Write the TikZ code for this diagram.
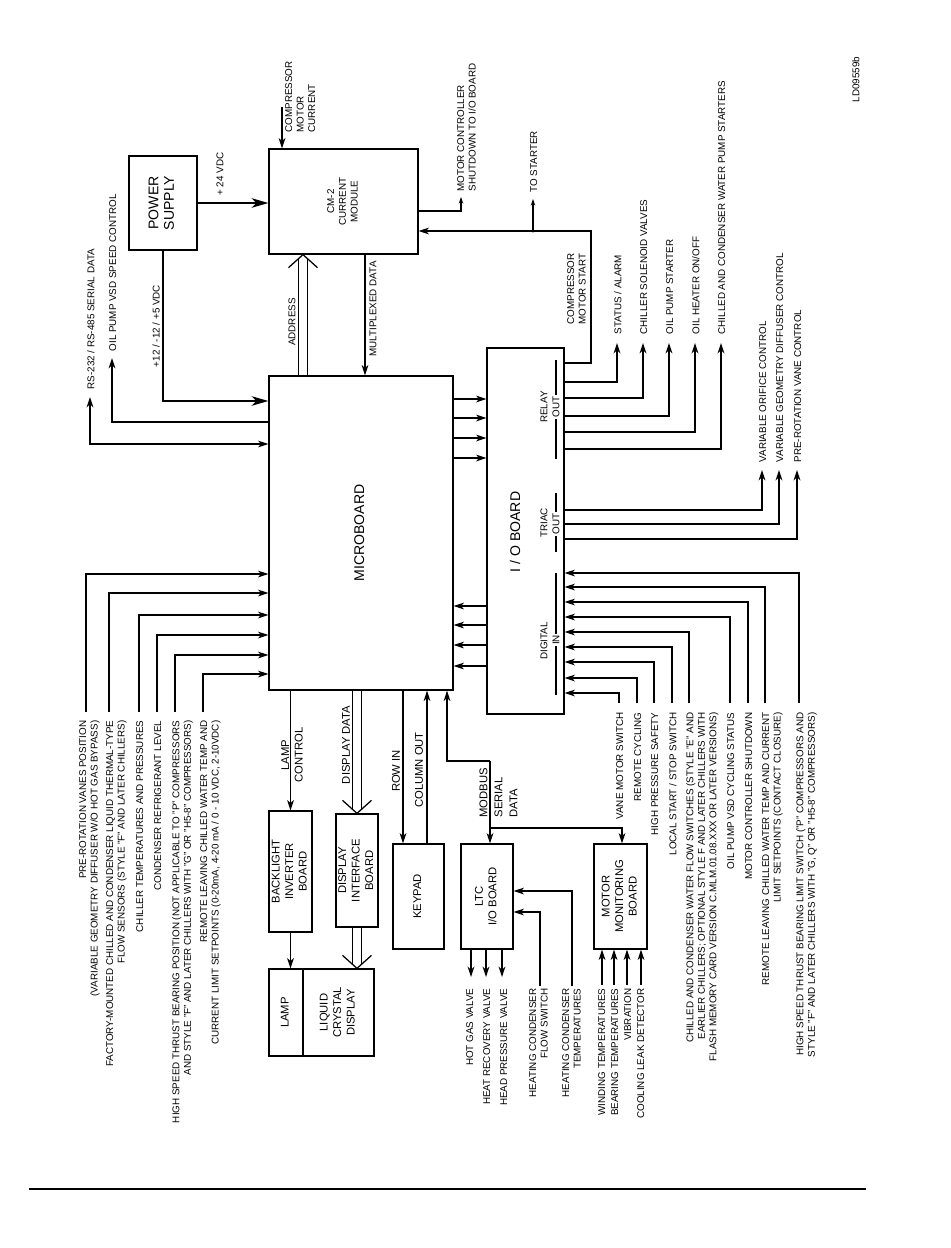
\documentclass[tikz,border=0pt]{standalone}
\usepackage{fontspec}
\setmainfont{Liberation Sans}
\usepackage{graphicx}
\usetikzlibrary{arrows.meta,backgrounds}

\newcommand{\lblfont}{\fontsize{7}{8.2}\selectfont}
\newcommand{\midfont}{\fontsize{8}{9.6}\selectfont}
\newcommand{\bigfont}{\fontsize{10}{11}\selectfont}
\newcommand{\cmfont}{\fontsize{7}{8.3}\selectfont}
\newcommand{\vlab}[1]{\rotatebox{90}{\begin{tabular}{@{}c@{}}#1\end{tabular}}}

\begin{document}
\begin{tikzpicture}[
    x=0.025cm, y=-0.025cm, line width=0.9pt,
    box/.style={draw, inner sep=0pt, font=\midfont},
    lbl/.style={rotate=90, inner sep=0pt, font=\lblfont, align=right, anchor=north east},
    lbll/.style={rotate=90, inner sep=0pt, font=\lblfont, align=left, anchor=north west},
    lblc/.style={rotate=90, inner sep=0pt, font=\lblfont, align=center},
    arr/.style={-{Stealth[length=2.6mm, width=1.7mm, inset=0.8mm]}},
    arrtwo/.style={{Stealth[length=2.6mm, width=1.7mm, inset=0.8mm]}-{Stealth[length=2.6mm, width=1.7mm, inset=0.8mm]}},
    bigarr/.style={-{Stealth[length=4.2mm, width=2.4mm, inset=1.2mm]}},
    smallarr/.style={-{Stealth[length=1.6mm, width=1.1mm, inset=0.5mm]}},
    dbl/.style={double, double distance=0.215cm}
]
\useasboundingbox (0,0) rectangle (950,1248);

% boxes
\node[box, minimum width=1.7cm, minimum height=2.35cm, font=\bigfont] (ps) at (163,203) {\vlab{POWER\\SUPPLY}};
\node[box, minimum width=3.725cm, minimum height=2.625cm, font=\cmfont] (cm) at (343.5,201.5) {\vlab{CM-2\\CURRENT\\MODULE}};
\node[box, minimum width=4.6cm, minimum height=7.85cm, font=\bigfont] (mb) at (361,533) {\vlab{MICROBOARD}};
\node[box, minimum width=1.925cm, minimum height=9.15cm] (io) at (525.5,531) {};
\node[font=\bigfont] (iotxt) at (517,532) {\vlab{I / O BOARD}};
\node[box, minimum width=1.075cm, minimum height=3.025cm] (bl) at (290.5,871.5) {\vlab{BACKLIGHT\\INVERTER\\BOARD}};
\node[box, minimum width=1.05cm, minimum height=2.825cm] (di) at (357,870.5) {\vlab{DISPLAY\\INTERFACE\\BOARD}};
\node[box, minimum width=1.275cm, minimum height=2.625cm] (kp) at (418.5,896.5) {\vlab{KEYPAD}};
\node[box, minimum width=1.3cm, minimum height=2.625cm] (ltc) at (487,896.5) {\vlab{LTC\\I/O BOARD}};
\node[box, minimum width=1.325cm, minimum height=2.625cm] (mm) at (620.5,896.5) {\vlab{MOTOR\\MONITORING\\BOARD}};
\node[box, minimum width=0.85cm, minimum height=2.175cm] (lamp) at (286,1012.5) {\vlab{LAMP}};
\node[box, minimum width=1.775cm, minimum height=2.175cm] (lcd) at (338.5,1012.5) {\vlab{LIQUID\\CRYSTAL\\DISPLAY}};

% power and current module
\node[lblc] (vtf) at (220,174) {+ 24 VDC};
\draw[bigarr] (ps.east |- 0,203) -- (cm.west |- 0,203);
\coordinate (cmc) at (282,107);
\node[lbll] (cmctxt) at (284.6,133) {COMPRESSOR\\MOTOR\\CURRENT};
\draw[arr] (cmc) -- (cmc |- cm.north);
\node[lblc] (vdc) at (156,326) {+12 / -12 / +5 VDC};
\draw[bigarr] (ps.south) |- (mb.west |- 0,401);
\coordinate (opc) at (112,358);
\node[lbll] (optxt) at (108.6,352) {OIL PUMP VSD SPEED CONTROL};
\draw[arr] (mb.west |- 0,422) -| (opc);
\coordinate (rsc) at (90,397);
\node[lbll] (rstxt) at (86.6,390) {RS-232 / RS-485 SERIAL DATA};
\draw[arrtwo] (rsc) |- (mb.west |- 0,444);

% address and multiplexed data
\coordinate (adrtip) at (cm.south -| 303,0);
\begin{scope}[on background layer]
    \draw[dbl] (mb.north -| 303,0) -- ([shift={(0,4.5)}]adrtip);
    \draw[dbl] (mb.south -| di.north) -- ([shift={(0,-4.5)}]di.north);
    \draw[dbl] (di.south) -- ([shift={(0,-4.5)}]di.south |- lcd.north);
\end{scope}
\draw (adrtip) ++(-14.5,13) -- (adrtip) -- ++(14.5,13);
\node[lblc] (adrtxt) at (292,322) {ADDRESS};
\draw[arr] (cm.south -| 365,0) -- (mb.north -| 365,0);
\node[lblc] (mpxtxt) at (373,309) {MULTIPLEXED DATA};

% motor controller and starter
\coordinate (mcsc) at (461,197);
\node[lbll] (mcstxt) at (456.6,192) {MOTOR CONTROLLER\\SHUTDOWN TO I/O BOARD};
\draw[smallarr] (cm.east |- 0,211) -| (mcsc);
\coordinate (cmsc) at (591,231);
\draw[arr] (io.east |- 0,363) -| (cmsc) -- (cm.east |- cmsc);
\node[lbll] (cmstxt) at (566.6,325) {COMPRESSOR\\MOTOR START};
\coordinate (tsc) at (533,199);
\draw[smallarr] (tsc |- cmsc) -- (tsc);
\fill (tsc |- cmsc) circle[radius=1.2pt];
\node[lbll] (tstxt) at (529.6,193) {TO STARTER};

% relay outputs
\coordinate (r1) at (617,343);
\node[lbll] (r1txt) at (613.6,335) {STATUS / ALARM};
\draw[arr] (io.east |- 0,382) -| (r1);
\coordinate (r2) at (643,343);
\node[lbll] (r2txt) at (639.6,335) {CHILLER SOLENOID VALVES};
\draw[arr] (io.east |- 0,398) -| (r2);
\coordinate (r3) at (669,343);
\node[lbll] (r3txt) at (665.6,335) {OIL PUMP STARTER};
\draw[arr] (io.east |- 0,416) -| (r3);
\coordinate (r4) at (695,343);
\node[lbll] (r4txt) at (691.6,335) {OIL HEATER ON/OFF};
\draw[arr] (io.east |- 0,432) -| (r4);
\coordinate (r5) at (721,343);
\node[lbll] (r5txt) at (717.6,335) {CHILLED AND CONDENSER WATER PUMP STARTERS};
\draw[arr] (io.east |- 0,449) -| (r5);

% triac outputs
\coordinate (t1) at (762,470);
\node[lbll] (t1txt) at (758.6,463) {VARIABLE ORIFICE CONTROL};
\draw[arr] (io.east |- 0,510) -| (t1);
\coordinate (t2) at (779,470);
\node[lbll] (t2txt) at (775.6,463) {VARIABLE GEOMETRY DIFFUSER CONTROL};
\draw[arr] (io.east |- 0,524) -| (t2);
\coordinate (t3) at (797,470);
\node[lbll] (t3txt) at (793.6,463) {PRE-ROTATION VANE CONTROL};
\draw[arr] (io.east |- 0,539) -| (t3);

% digital inputs
\coordinate (d1) at (619,703);
\node[lbl] (d1txt) at (615.6,712) {VANE MOTOR SWITCH};
\draw[arr] (d1) |- (io.east |- 0,693);
\coordinate (d2) at (637,703);
\node[lbl] (d2txt) at (633.6,712) {REMOTE CYCLING};
\draw[arr] (d2) |- (io.east |- 0,678);
\coordinate (d3) at (654,703);
\node[lbl] (d3txt) at (650.6,712) {HIGH PRESSURE SAFETY};
\draw[arr] (d3) |- (io.east |- 0,662);
\coordinate (d4) at (672,703);
\node[lbl] (d4txt) at (668.6,712) {LOCAL START / STOP SWITCH};
\draw[arr] (d4) |- (io.east |- 0,647);
\coordinate (d5) at (689,703);
\node[lbl] (d5txt) at (685.6,712) {CHILLED AND CONDENSER WATER FLOW SWITCHES (STYLE "E" AND\\EARLIER CHILLERS; OPTIONAL STYLE F AND LATER CHILLERS WITH\\FLASH MEMORY CARD VERSION C.MLM.01.08.XXX OR LATER VERSIONS)};
\draw[arr] (d5) |- (io.east |- 0,632);
\coordinate (d6) at (730,703);
\node[lbl] (d6txt) at (726.6,712) {OIL PUMP VSD CYCLING STATUS};
\draw[arr] (d6) |- (io.east |- 0,617);
\coordinate (d7) at (748,703);
\node[lbl] (d7txt) at (744.6,712) {MOTOR CONTROLLER SHUTDOWN};
\draw[arr] (d7) |- (io.east |- 0,602);
\coordinate (d8) at (765,703);
\node[lbl] (d8txt) at (761.6,712) {REMOTE LEAVING CHILLED WATER TEMP AND CURRENT\\LIMIT SETPOINTS (CONTACT CLOSURE)};
\draw[arr] (d8) |- (io.east |- 0,587);
\coordinate (d9) at (799,703);
\node[lbl] (d9txt) at (795.6,712) {HIGH SPEED THRUST BEARING LIMIT SWITCH ("P" COMPRESSORS AND\\STYLE "F" AND LATER CHILLERS WITH "G, Q" OR "H5-8" COMPRESSORS)};
\draw[arr] (d9) |- (io.east |- 0,573);

% i/o board sections
\draw (556,360) -- (556,459);
\node[lblc, fill=white, inner sep=1pt] (rout) at (556,407) {OUT};
\node[lblc] (rrel) at (544,407) {RELAY};
\draw (556,493) -- (556,552);
\node[lblc, fill=white, inner sep=1pt] (tout) at (556,524) {OUT};
\node[lblc] (ttri) at (544,523) {TRIAC};
\draw (556,573) -- (556,695);
\node[lblc, fill=white, inner sep=1pt] (din) at (556,640) {IN};
\node[lblc] (ddig) at (544,641) {DIGITAL};

% microboard <-> i/o board
\draw[arr] (mb.east |- 0,399) -- (io.west |- 0,399);
\draw[arr] (mb.east |- 0,418) -- (io.west |- 0,418);
\draw[arr] (mb.east |- 0,438) -- (io.west |- 0,438);
\draw[arr] (mb.east |- 0,458) -- (io.west |- 0,458);
\draw[arr] (io.west |- 0,606) -- (mb.east |- 0,606);
\draw[arr] (io.west |- 0,625) -- (mb.east |- 0,625);
\draw[arr] (io.west |- 0,645) -- (mb.east |- 0,645);
\draw[arr] (io.west |- 0,666) -- (mb.east |- 0,666);

% microboard inputs
\coordinate (i1) at (86,712);
\node[lbl] (i1txt) at (78.6,720) {PRE-ROTATION VANES POSITION\\(VARIABLE GEOMETRY DIFFUSER W/O HOT GAS BYPASS)};
\draw[arr] (i1) |- (mb.west |- 0,574);
\coordinate (i2) at (109,712);
\node[lbl] (i2txt) at (105.6,720) {FACTORY-MOUNTED CHILLED AND CONDENSER LIQUID THERMAL-TYPE\\FLOW SENSORS (STYLE "F" AND LATER CHILLERS)};
\draw[arr] (i2) |- (mb.west |- 0,593);
\coordinate (i3) at (139,712);
\node[lbl] (i3txt) at (135.6,720) {CHILLER TEMPERATURES AND PRESSURES};
\draw[arr] (i3) |- (mb.west |- 0,615);
\coordinate (i4) at (157,712);
\node[lbl] (i4txt) at (153.6,720) {CONDENSER REFRIGERANT LEVEL};
\draw[arr] (i4) |- (mb.west |- 0,635);
\coordinate (i5) at (175,712);
\node[lbl] (i5txt) at (171.6,720) {HIGH SPEED THRUST BEARING POSITION (NOT APPLICABLE TO "P" COMPRESSORS\\AND STYLE "F" AND LATER CHILLERS WITH "G" OR "H5-8" COMPRESSORS)};
\draw[arr] (i5) |- (mb.west |- 0,655);
\coordinate (i6) at (203,712);
\node[lbl] (i6txt) at (199.6,720) {REMOTE LEAVING CHILLED WATER TEMP AND\\CURRENT LIMIT SETPOINTS (0-20mA, 4-20 mA / 0 - 10 VDC, 2-10VDC)};
\draw[arr] (i6) |- (mb.west |- 0,674);

% display, lamp and keypad
\draw[arr] (mb.south -| bl.north) -- (bl.north);
\node[lblc, font={\fontsize{8}{9.6}\selectfont}] (lctxt) at (292,755) {LAMP\\CONTROL};
\draw[arr] (bl.south) -- (bl.south |- lamp.north);
\draw (di.north) ++(-14.5,-13) -- (di.north) -- ++(14.5,-13);
\draw (di.south |- lcd.north) ++(-14.5,-13) -- (di.south |- lcd.north) -- ++(14.5,-13);
\node[lblc, font=\midfont] (ddtxt) at (346,745) {DISPLAY DATA};
\draw[arr] (mb.south -| 403,0) -- (kp.north -| 403,0);
\draw[arr] (kp.north -| 427,0) -- (mb.south -| 427,0);
\node[lblc, font=\midfont] (rowtxt) at (396,771) {ROW IN};
\node[lblc, font=\midfont] (coltxt) at (419,770) {COLUMN OUT};

% modbus
\coordinate (mbk) at (490,761);
\draw[arr] (mbk) -| (mb.south -| 447,0);
\draw[arr] (mbk) -- (ltc.north -| mbk);
\draw[arr] (mbk |- 0,828) -| (mm.north -| 622,0);
\node[lbll, font={\fontsize{8}{10.6}\selectfont}] (mbustxt) at (479,818) {MODBUS\\SERIAL\\DATA};

% ltc board
\coordinate (o1) at (471,977);
\node[lbl] (o1txt) at (465.6,988) {HOT GAS VALVE};
\draw[arr] (ltc.south -| o1) -- (o1);
\coordinate (o2) at (486,977);
\node[lbl] (o2txt) at (482.6,988) {HEAT RECOVERY VALVE};
\draw[arr] (ltc.south -| o2) -- (o2);
\coordinate (o3) at (502,977);
\node[lbl] (o3txt) at (499.6,988) {HEAD PRESSURE VALVE};
\draw[arr] (ltc.south -| o3) -- (o3);
\coordinate (fs) at (540,986);
\node[lbl] (fstxt) at (528.6,988) {HEATING CONDENSER\\FLOW SWITCH};
\draw[arr] (fs) |- (ltc.east |- 0,912);
\coordinate (hct) at (572,986);
\node[lbl] (hcttxt) at (561.6,988) {HEATING CONDENSER\\TEMPERATURES};
\draw[arr] (hct) |- (ltc.east |- 0,891);

% motor monitoring board
\coordinate (m1) at (602,985);
\node[lbl] (m1txt) at (597.6,988) {WINDING TEMPERATURES};
\draw[arr] (m1) -- (m1 |- mm.south);
\coordinate (m2) at (614,985);
\node[lbl] (m2txt) at (610.6,988) {BEARING TEMPERATURES};
\draw[arr] (m2) -- (m2 |- mm.south);
\coordinate (m3) at (627,985);
\node[lbl] (m3txt) at (623.6,988) {VIBRATION};
\draw[arr] (m3) -- (m3 |- mm.south);
\coordinate (m4) at (641,985);
\node[lbl] (m4txt) at (636.6,988) {COOLING LEAK DETECTOR};
\draw[arr] (m4) -- (m4 |- mm.south);

\node[lbll] (ldtxt) at (851.6,103) {LD09559b};
\draw[line width=1.8pt] (29,1189) -- (866,1189);
\end{tikzpicture}
\end{document}
